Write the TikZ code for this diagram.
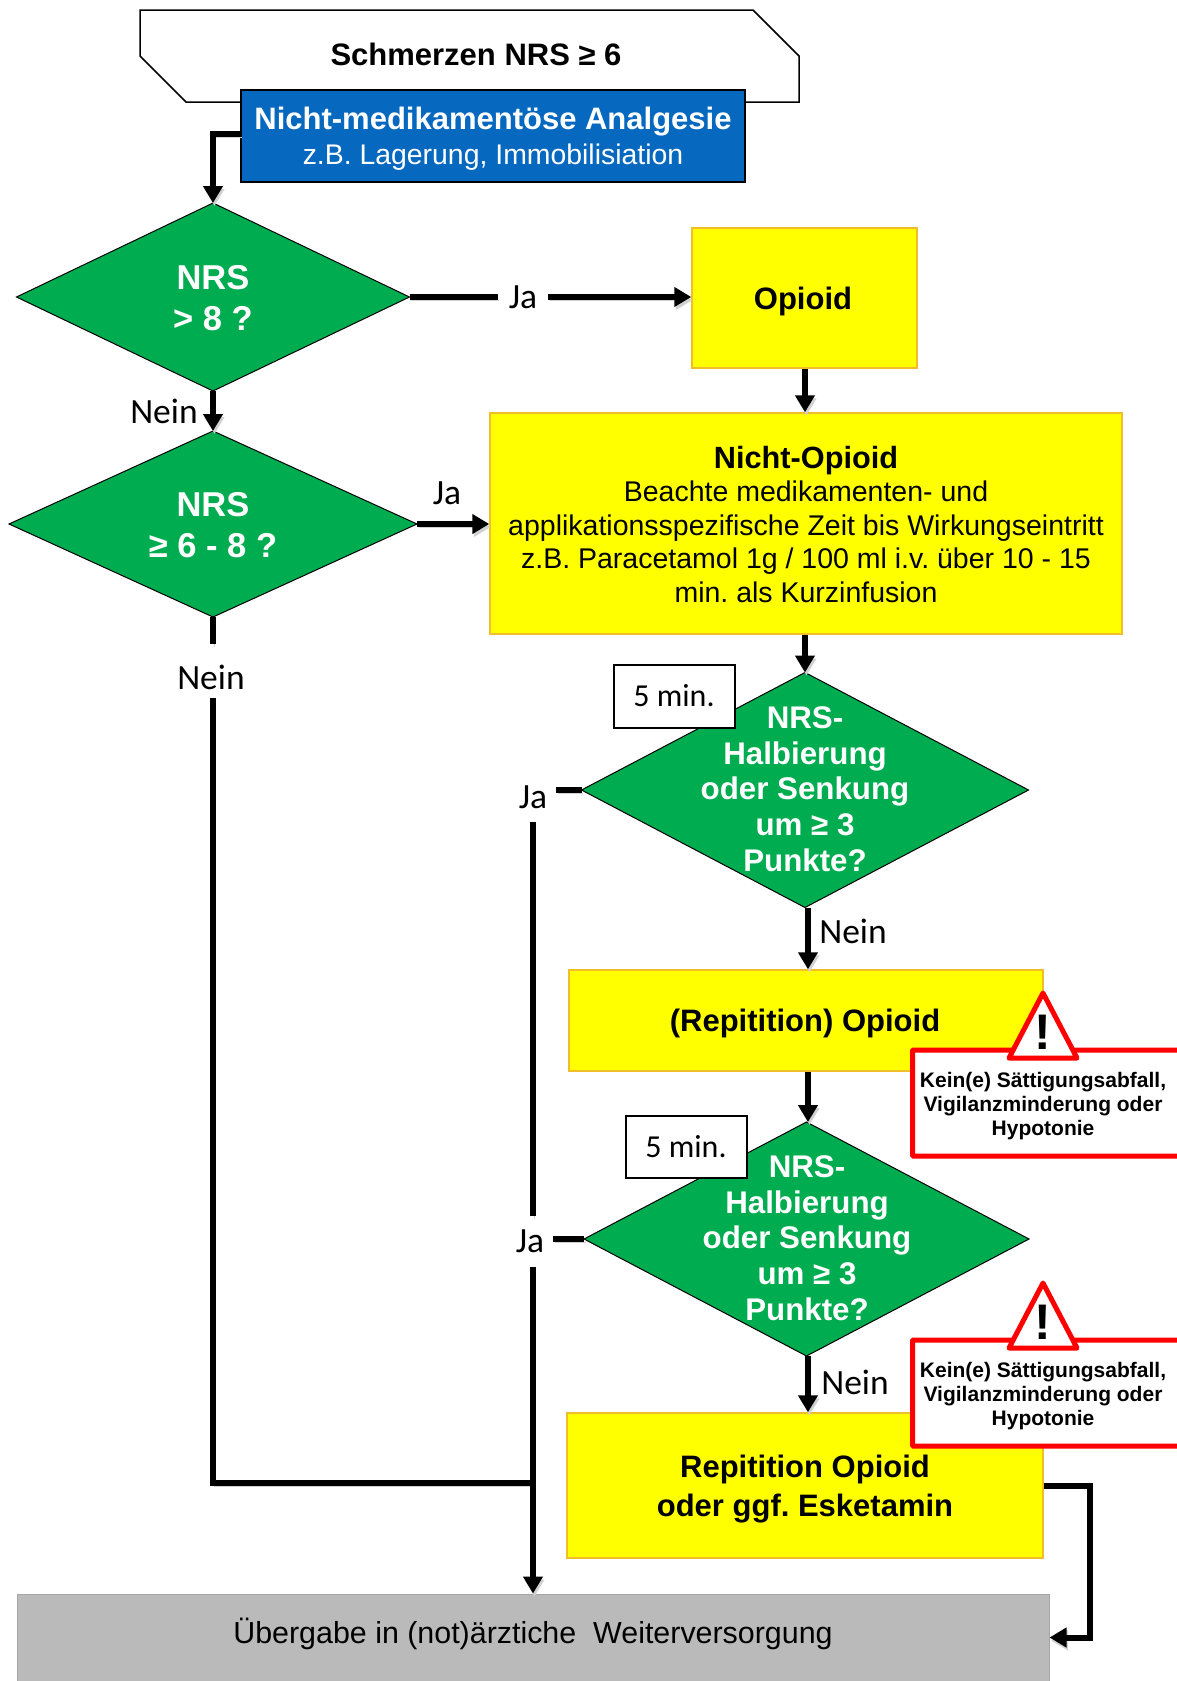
\documentclass[tikz,border=0pt]{standalone}
\usepackage{fontspec}
\setmainfont{Liberation Sans}
\newfontfamily\calfont{Carlito}
\usetikzlibrary{shapes.geometric,arrows.meta}
\definecolor{nrsgreen}{RGB}{0, 172, 80}
\definecolor{bluebox}{RGB}{6, 104, 190}
\definecolor{yellowbox}{RGB}{255, 255, 0}
\definecolor{yellowline}{RGB}{240, 190, 40}
\definecolor{greybox}{RGB}{186, 186, 186}
\definecolor{warnred}{RGB}{255, 0, 0}
\tikzset{
  decision/.style={diamond, fill=nrsgreen, draw=black, line width=1pt, inner sep=0pt, outer sep=0pt},
  decisiontext/.style={text=white, font=\fontsize{34.5}{41}\selectfont\bfseries, align=center},
  halbtext/.style={text=white, font=\fontsize{31.3}{35.7}\selectfont\bfseries, align=center},
  drugbox/.style={rectangle, fill=yellowbox, draw=yellowline, line width=1.5pt, align=center, inner sep=0pt},
  drugtext/.style={font=\fontsize{31}{39}\selectfont\bfseries, align=center},
  jalabel/.style={font=\fontsize{35.5}{40}\selectfont\calfont, inner sep=0pt, minimum width=46pt, minimum height=50pt},
  timebox/.style={rectangle, draw=black, fill=white, line width=2pt, font=\fontsize{32}{36}\selectfont\calfont, inner sep=0pt},
  conn/.style={line width=6pt, black, preaction={draw=black!18, transform canvas={shift={(1.5pt,-3pt)}}}},
  connarrow/.style={conn, -{Triangle[length=17pt,width=19pt]}},
  warnbox/.style={rectangle, draw=warnred, fill=white, line width=5pt, rounded corners=1pt, inner sep=0pt, outer sep=0pt},
  warntext/.style={font=\fontsize{21}{24}\selectfont\bfseries, align=center}
}
\begin{document}
\frenchspacing
\begin{tikzpicture}[x=1pt,y=-1pt]
\useasboundingbox (0,0) rectangle (1176,1681);

% Start shape and first measures
\draw[black, line width=1.5pt, fill=white] (140,10) -- (753,10) -- (799,56) -- (799,102) -- (186,102) -- (140,56) -- cycle;
\node[font=\fontsize{31}{36}\selectfont\bfseries] (start) at (476,54) {Schmerzen NRS ≥ 6};
\node[rectangle, fill=bluebox, draw=black, line width=1.5pt, minimum width=504pt, minimum height=92pt, inner sep=0pt] (analgesie) at (493,136) {};
\node[text=white, font=\fontsize{28.4}{35}\selectfont, align=center] (analgesietext) at (493,139) {{\fontsize{31}{35}\selectfont\bfseries Nicht-medikamentöse Analgesie}\\z.B. Lagerung, Immobilisiation};

% Left decisions
\node[decision, minimum width=393pt, minimum height=188pt] (nrsa) at (213,297) {};
\node[decisiontext] (nrsatext) at (213,298) {NRS\\> 8 ?};
\node[decision, minimum width=408pt, minimum height=186pt] (nrsb) at (213,524) {};
\node[decisiontext] (nrsbtext) at (213,525) {NRS\\≥ 6 - 8 ?};

% Medication boxes
\node[drugbox, minimum width=225pt, minimum height=140pt] (opioid) at (804.5,298) {};
\node[drugtext] (opioidtext) at (803,301) {Opioid};
\node[drugbox, minimum width=632pt, minimum height=221pt] (nichtopioid) at (806,523.5) {};
\node[font=\fontsize{28.5}{33.5}\selectfont, align=center] (nichtopioidtext) at (806,524.5) {{\fontsize{30.7}{33.5}\selectfont\bfseries Nicht-Opioid}\\Beachte medikamenten- und\\applikationsspezifische Zeit bis Wirkungseintritt\\z.B. Paracetamol 1g / 100 ml i.v. über 10 - 15\\min. als Kurzinfusion};

\node[decision, minimum width=447pt, minimum height=235pt] (halba) at (805,790) {};
\node[halbtext] (halbatext) at (805,789) {NRS-\\Halbierung\\oder Senkung\\um ≥ 3\\Punkte?};
\node[timebox, minimum width=121pt, minimum height=63pt] (zeita) at (674,696) {5 min.};

\node[drugbox, minimum width=474pt, minimum height=101pt] (repa) at (806,1020.5) {};
\node[drugtext] (repatext) at (805,1023) {(Repitition) Opioid};

\node[decision, minimum width=445pt, minimum height=234pt] (halbb) at (806.5,1239) {};
\node[halbtext] (halbbtext) at (807,1238) {NRS-\\Halbierung\\oder Senkung\\um ≥ 3\\Punkte?};
\node[timebox, minimum width=121pt, minimum height=62pt] (zeitb) at (686,1147) {5 min.};

\node[drugbox, minimum width=476pt, minimum height=145pt] (repb) at (805,1485.5) {};
\node[drugtext] (repbtext) at (805,1489) {Repitition Opioid\\oder ggf. Esketamin};

\node[rectangle, fill=greybox, draw=black!35, line width=1pt, minimum width=1032pt, minimum height=87pt, inner sep=0pt] (uebergabe) at (533,1637.5) {};
\node[font=\fontsize{30.4}{36}\selectfont] (uebergabetext) at (533,1634) {Übergabe in (not)ärztiche\ \ Weiterversorgung};

% Warnings
\foreach \dy/\nm in {0/warna, 290/warnb} {
  \begin{scope}[yshift=-\dy pt]
  \node[warnbox, minimum width=270pt, minimum height=106pt, anchor=north west] (\nm) at (912.5,1050) {};
  \node[warntext] (\nm text) at (1043,1106) {Kein(e) Sättigungsabfall,\\Vigilanzminderung oder\\Hypotonie};
  \draw[warnred, line width=5pt, line join=round, fill=white] (1043,993) -- (1077,1058) -- (1009,1058) -- cycle;
  \node[font=\fontsize{50}{50}\selectfont\bfseries] (\nm sign) at (1043,1032) {!};
  \end{scope}
}

% Ja / Nein labels
\node[jalabel, minimum width=50pt] (jaa) at (523,297) {Ja};
\node[jalabel] (jab) at (447,493) {Ja};
\node[jalabel] (jac) at (533,797) {Ja};
\node[jalabel] (jad) at (530,1241.5) {Ja};
\node[jalabel] (neina) at (164,411) {Nein};
\node[jalabel, minimum height=41pt] (neinb) at (211,677) {Nein};
\node[jalabel] (neinc) at (853,931) {Nein};
\node[jalabel] (neind) at (855,1382) {Nein};

% Connectors
\coordinate (sammel) at (533,1483);
\draw[connarrow] (analgesie.west |- 0,134) -| (nrsa.north);
\draw[conn] (nrsa.east) -- (jaa.west |- nrsa.east);
\draw[connarrow] (jaa.east |- nrsa.east) -- (opioid.west |- nrsa.east);
\draw[connarrow] (opioid.south -| 805,0) -- (nichtopioid.north -| 805,0);
\draw[connarrow] (nrsa.south) -- (nrsb.north);
\draw[connarrow] (nrsb.east) -- (nichtopioid.west |- nrsb.east);
\draw[conn, shorten >=12pt] (nrsb.south) -- (nrsb.south |- neinb.north);
\draw[conn] (neinb.south -| nrsb.south) |- (sammel);
\draw[connarrow] (nichtopioid.south -| 805,0) -- (halba.north);
\draw[conn] (halba.west) -- (jac.east |- halba.west);
\draw[conn] (jac.south -| sammel) -- (jad.north -| sammel);
\draw[connarrow] (jad.south -| sammel) -- (uebergabe.north -| sammel);
\draw[conn] (halbb.west) -- (jad.east |- halbb.west);
\draw[connarrow] (halba.south -| 808,0) -- (repa.north -| 808,0);
\draw[connarrow] (repa.south -| 808,0) -- (halbb.north -| 808,0);
\draw[connarrow] (halbb.south -| 808,0) -- (repb.north -| 808,0);
\draw[connarrow] (repb.east) -- (1090,1485.5) |- (uebergabe.east);
\end{tikzpicture}
\end{document}
